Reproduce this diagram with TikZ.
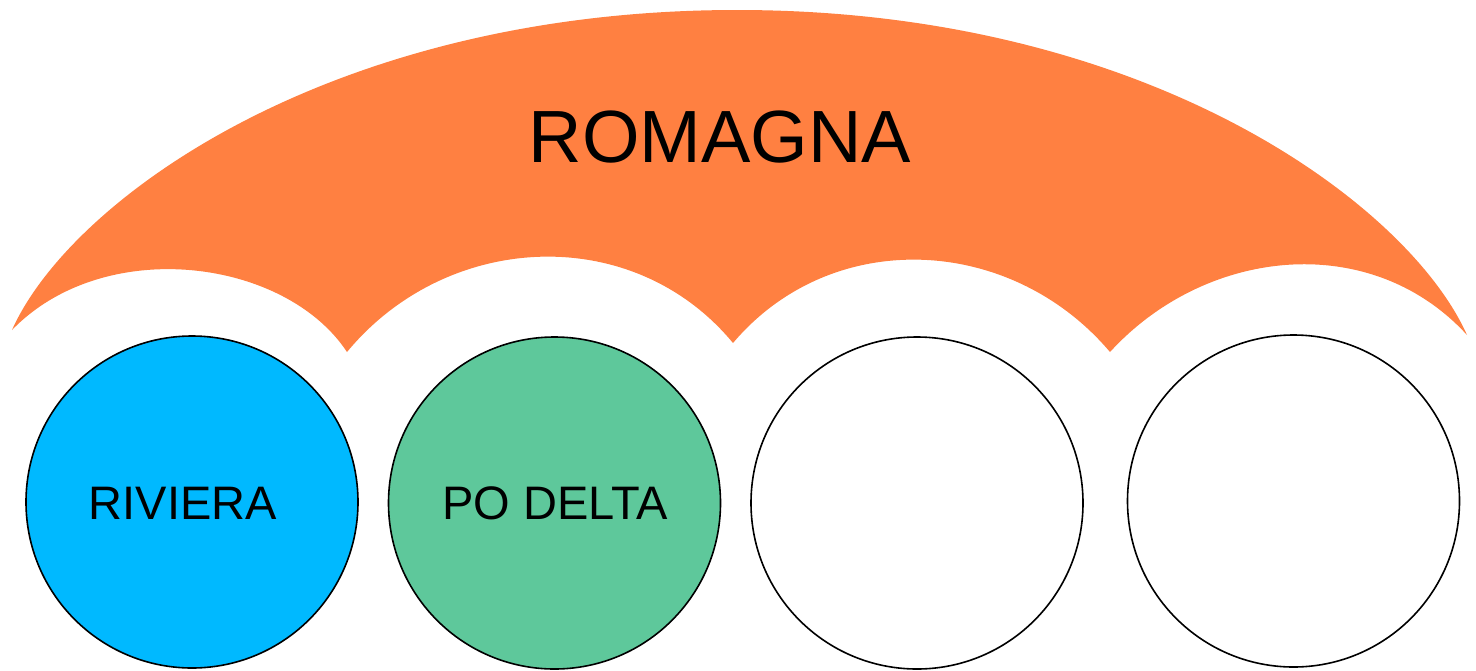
\documentclass[tikz,border=0pt]{standalone}
\usepackage{fontspec}
\setmainfont{Liberation Sans}
\definecolor{roma}{RGB}{255,128,65}
\definecolor{riv}{RGB}{0,185,255}
\definecolor{podel}{RGB}{94,200,155}
\begin{document}
\begin{tikzpicture}[x=1pt,y=-1pt,
  disc/.style={circle,draw=black,line width=1.6pt,minimum size=332pt,inner sep=0pt},
  lbl/.style={anchor=base,inner sep=0pt,font=\fontsize{47}{50}\selectfont}]
\useasboundingbox (0,0) rectangle (1476,670);
% umbrella shape
\fill[roma] (12,330)
  .. controls (70,200) and (330,10) .. (737,10)
  .. controls (1149,10) and (1409,205) .. (1467,335)
  .. controls (1371,230) and (1206,247) .. (1110,352)
  .. controls (1011,235) and (832,226) .. (733,343)
  .. controls (633,222) and (447,231) .. (347,352)
  .. controls (285,258) and (104,235) .. (12,330) -- cycle;
\node[anchor=base,inner sep=0pt,font=\fontsize{74}{80}\selectfont] (romagna) at (720,162) {ROMAGNA};
% circles
\node[disc,fill=riv] (c1) at (192,502) {};
\node[disc,fill=podel] (c2) at (554.5,503) {};
\node[disc,fill=white] (c3) at (917,503) {};
\node[disc,fill=white] (c4) at (1293.5,501) {};
\node[lbl] (riviera) at (183,519) {RIVIERA};
\node[lbl] (podelta) at (555,519) {PO DELTA};
\end{tikzpicture}
\end{document}
